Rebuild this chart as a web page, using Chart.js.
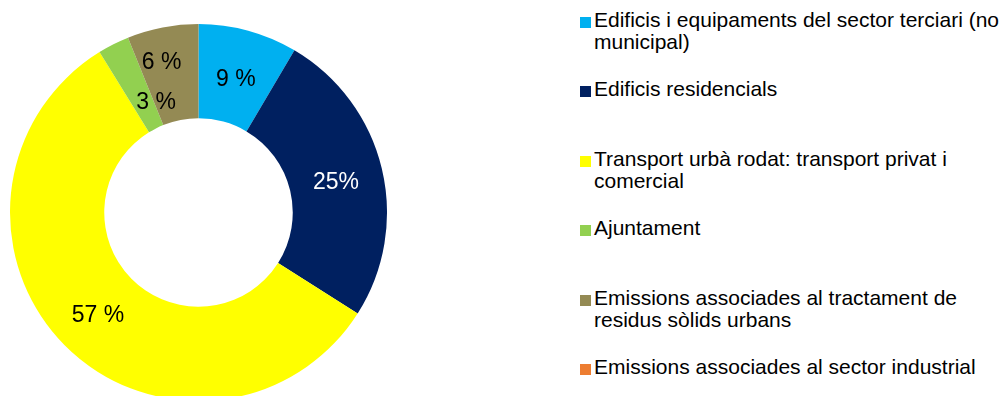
<!DOCTYPE html>
<html>
<head>
<meta charset="utf-8">
<script src="https://cdn.jsdelivr.net/npm/chart.js@4/dist/chart.umd.min.js"></script>
<style>
html, body { margin: 0; padding: 0; background: #fff; overflow: hidden; }
body { width: 1007px; height: 396px; position: relative; font-family: "Liberation Sans", Arial, sans-serif; }
#wrap { position: absolute; left: 0; top: 0; width: 397px; height: 425px; }
#legend { position: absolute; left: 579px; top: 0; }
.item { position: absolute; left: 0; white-space: nowrap; font-size: 21px; line-height: 22px; color: #000; padding-left: 15px; }
.box { position: absolute; left: 1px; top: 8px; width: 11px; height: 11px; }
.line { display: inline-block; }
</style>
</head>
<body>
<div id="wrap"><canvas id="emissions"></canvas></div>
<div id="legend"></div>
<script>
// categories (split into the lines used by the legend)
const categories = [
    ['Edificis i equipaments del sector terciari (no', 'municipal)'],
    ['Edificis residencials'],
    ['Transport urbà rodat: transport privat i', 'comercial'],
    ['Ajuntament'],
    ['Emissions associades al tractament de', 'residus sòlids urbans'],
    ['Emissions associades al sector industrial']
];
// share of emissions, %
const shares = [8.5, 25.5, 57.2, 2.7, 6.1, 0];
// text printed on each slice
const sliceLabels = ['9 %', '25%', '57 %', '3 %', '6 %', ''];

const sliceColors = ['#00B0F0', '#002060', '#FFFF00', '#92D050', '#948A54', '#ED7D31'];
const labelColors = ['#000', '#fff', '#000', '#000', '#000', '#000'];
// small slices have their label moved a bit (angle in degrees, radius factor)
const labelNudge = { 3: { da: 6.4, rf: 0.86 }, 4: { da: -2.5, rf: 1.12 } };

const pctLabels = {
    id: 'pctLabels',
    afterDatasetsDraw(chart) {
        const ctx = chart.ctx;
        const meta = chart.getDatasetMeta(0);
        ctx.save();
        ctx.font = '23px "Liberation Sans", Arial, sans-serif';
        ctx.textAlign = 'center';
        ctx.textBaseline = 'alphabetic';
        meta.data.forEach((arc, i) => {
            if (!sliceLabels[i]) return;
            const p = arc.getProps(['x', 'y', 'startAngle', 'endAngle', 'innerRadius', 'outerRadius'], true);
            const n = labelNudge[i] || { da: 0, rf: 1 };
            const a = (p.startAngle + p.endAngle) / 2 + n.da * Math.PI / 180;
            const r = (p.innerRadius + p.outerRadius) / 2 * n.rf;
            ctx.fillStyle = labelColors[i];
            // baseline placed so the digits are centred on the point
            ctx.fillText(sliceLabels[i], p.x + Math.cos(a) * r, p.y + Math.sin(a) * r + 10);
        });
        ctx.restore();
    }
};

const config = {
    type: 'doughnut',
    data: {
        labels: categories.map(c => c.join(' ')),
        datasets: [{
            data: shares,
            backgroundColor: sliceColors,
            borderWidth: 0
        }]
    },
    options: {
        responsive: true,
        maintainAspectRatio: false,
        animation: false,
        cutout: '50%',
        layout: { padding: 10 },
        plugins: {
            legend: { display: false },
            tooltip: { enabled: false }
        }
    },
    plugins: [pctLabels]
};

new Chart(document.getElementById('emissions'), config);

// legend on the right, built from the same arrays
const legend = document.getElementById('legend');
const maxLine = 1008 - 594;
categories.forEach((lines, i) => {
    const item = document.createElement('div');
    item.className = 'item';
    item.style.top = (9 + i * 69.4) + 'px';
    const box = document.createElement('span');
    box.className = 'box';
    box.style.background = sliceColors[i];
    item.appendChild(box);
    lines.forEach((line, k) => {
        if (k > 0) item.appendChild(document.createElement('br'));
        const span = document.createElement('span');
        span.className = 'line';
        span.textContent = line;
        item.appendChild(span);
    });
    legend.appendChild(item);
    // lines too long for the space are squeezed a little, as in the original
    item.querySelectorAll('.line').forEach(span => {
        const w = span.getBoundingClientRect().width;
        if (w > maxLine) {
            span.style.letterSpacing = ((maxLine - w) / span.textContent.length) + 'px';
        }
    });
});
</script>
</body>
</html>
